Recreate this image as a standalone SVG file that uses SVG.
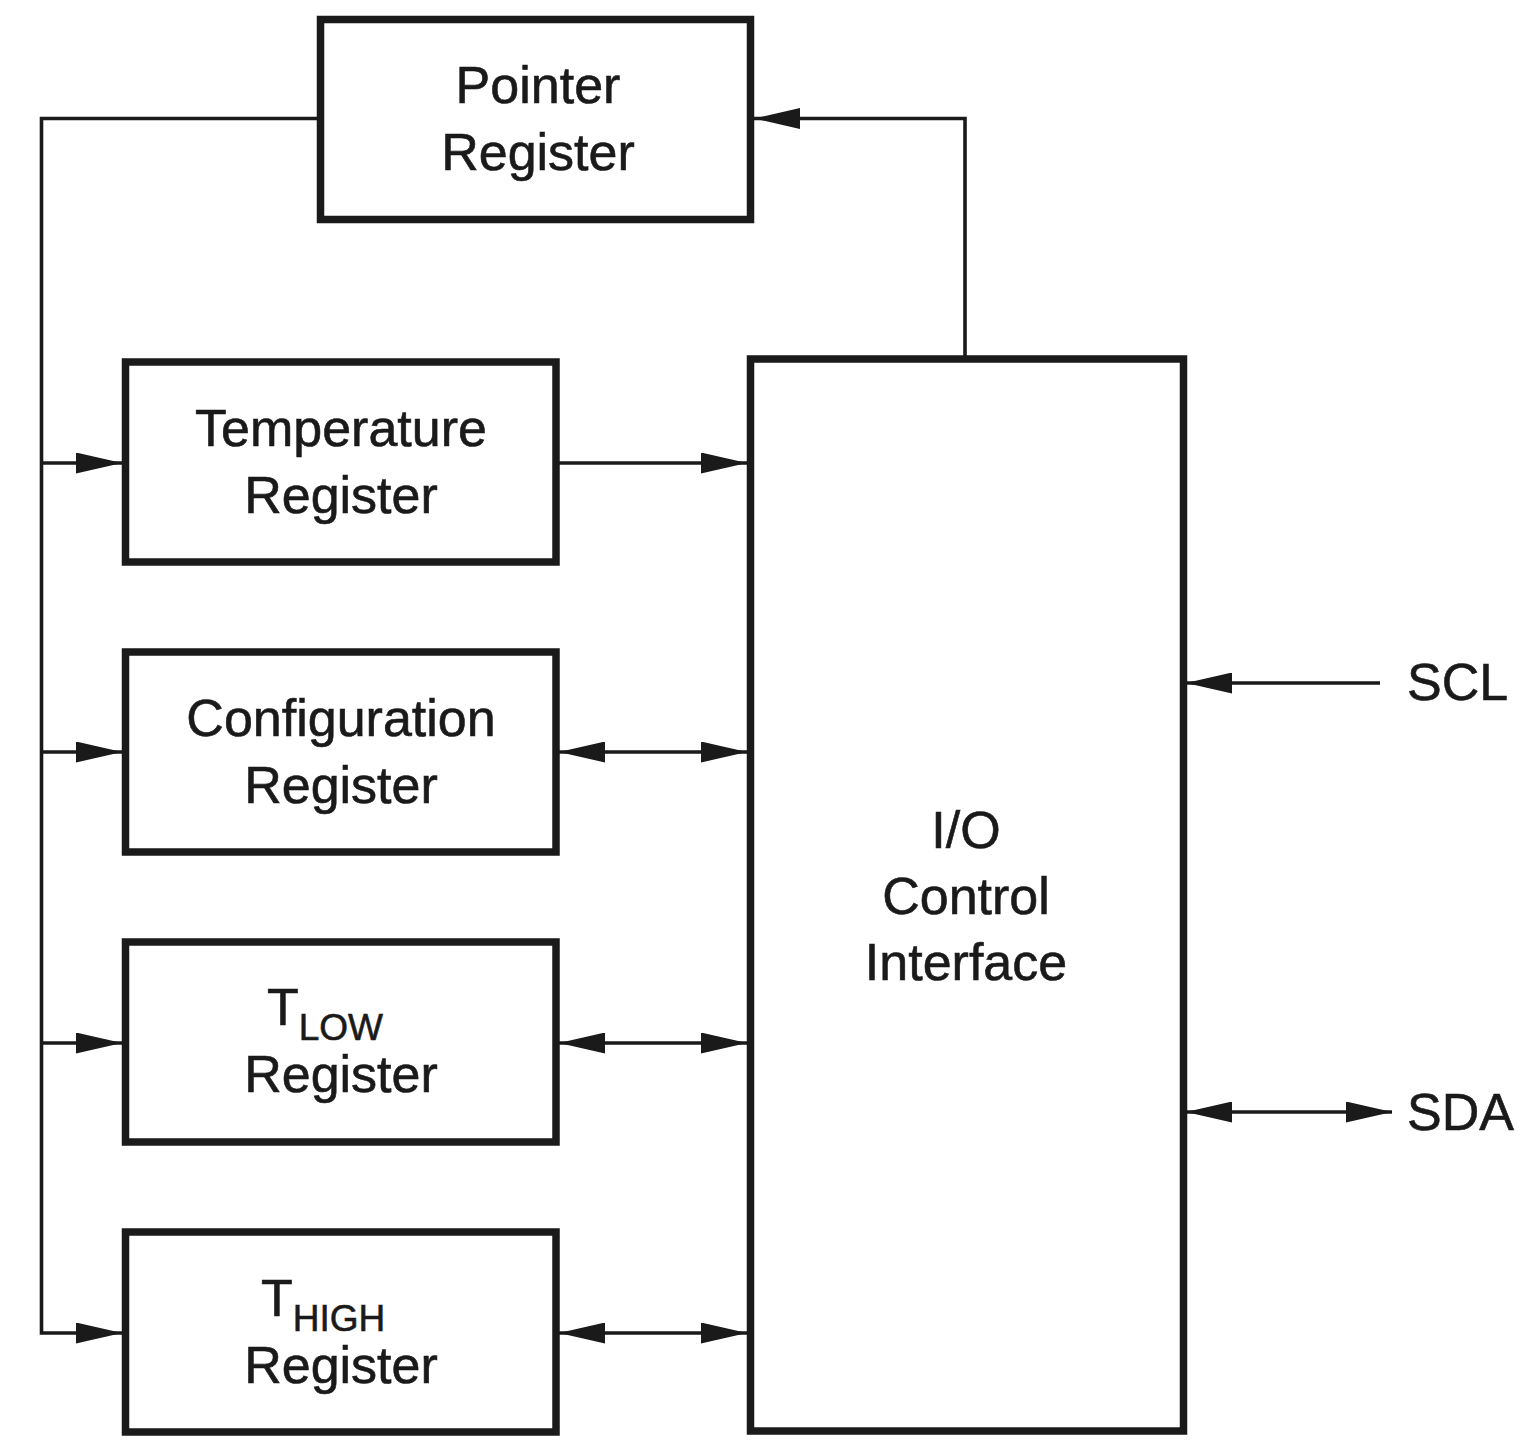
<svg xmlns="http://www.w3.org/2000/svg" width="1526" height="1454" viewBox="0 0 1526 1454">
<style>
.box{fill:#fff;stroke:#1a1a1a;stroke-width:7.5}
.wire{fill:none;stroke:#1a1a1a;stroke-width:3.6}
.t{font-family:"Liberation Sans",Arial,Helvetica,sans-serif;font-size:52px;fill:#1a1a1a;stroke:#1a1a1a;stroke-width:0.6;text-anchor:middle}
.s{font-family:"Liberation Sans",Arial,Helvetica,sans-serif;font-size:52px;fill:#1a1a1a;stroke:#1a1a1a;stroke-width:0.6}
</style>
<defs>
<marker id="ah" viewBox="0 0 46 21" refX="46" refY="10.5" markerWidth="46" markerHeight="21" markerUnits="userSpaceOnUse" orient="auto-start-reverse">
<path d="M0,0 L46,10.5 L0,21 Z" fill="#1a1a1a"/>
</marker>
</defs>
<rect width="1526" height="1454" fill="#fff"/>
<g id="connectors">
<polyline class="wire" points="320,118.5 41.5,118.5 41.5,1333 122,1333" marker-end="url(#ah)"/>
<line class="wire" x1="41.5" y1="463" x2="122" y2="463" marker-end="url(#ah)"/>
<line class="wire" x1="41.5" y1="752" x2="122" y2="752" marker-end="url(#ah)"/>
<line class="wire" x1="41.5" y1="1043" x2="122" y2="1043" marker-end="url(#ah)"/>
<line class="wire" x1="557" y1="463" x2="747" y2="463" marker-end="url(#ah)"/>
<line class="wire" x1="559" y1="752" x2="747" y2="752" marker-start="url(#ah)" marker-end="url(#ah)"/>
<line class="wire" x1="559" y1="1043" x2="747" y2="1043" marker-start="url(#ah)" marker-end="url(#ah)"/>
<line class="wire" x1="559" y1="1333" x2="747" y2="1333" marker-start="url(#ah)" marker-end="url(#ah)"/>
<polyline class="wire" points="965,357 965,118.5 754,118.5" marker-end="url(#ah)"/>
<line class="wire" x1="1380" y1="683" x2="1186" y2="683" marker-end="url(#ah)"/>
<line class="wire" x1="1186" y1="1112" x2="1392" y2="1112" marker-start="url(#ah)" marker-end="url(#ah)"/>
</g>
<g id="pointer">
<rect class="box" x="320.5" y="19.5" width="430" height="200"/>
<text class="t" x="538" y="103">Pointer</text>
<text class="t" x="538" y="170">Register</text>
</g>
<g id="temperature">
<rect class="box" x="125.5" y="362" width="430.5" height="200"/>
<text class="t" x="341" y="446">Temperature</text>
<text class="t" x="341" y="513">Register</text>
</g>
<g id="configuration">
<rect class="box" x="125.5" y="652" width="430.5" height="200"/>
<text class="t" x="341" y="736">Configuration</text>
<text class="t" x="341" y="803">Register</text>
</g>
<g id="tlow">
<rect class="box" x="125.5" y="942" width="430.5" height="200"/>
<text class="s" x="267" y="1025">T<tspan font-size="37" dy="15">LOW</tspan></text>
<text class="t" x="341" y="1092">Register</text>
</g>
<g id="thigh">
<rect class="box" x="125.5" y="1232" width="430.5" height="200"/>
<text class="s" x="261" y="1316">T<tspan font-size="37" dy="15">HIGH</tspan></text>
<text class="t" x="341" y="1383">Register</text>
</g>
<g id="io">
<rect class="box" x="750.5" y="359" width="433" height="1072"/>
<text class="t" x="966" y="848">I/O</text>
<text class="t" x="966" y="914">Control</text>
<text class="t" x="966" y="980">Interface</text>
</g>
<g id="scl"><text class="s" x="1407" y="700">SCL</text></g>
<g id="sda"><text class="s" x="1407" y="1130">SDA</text></g>
</svg>
